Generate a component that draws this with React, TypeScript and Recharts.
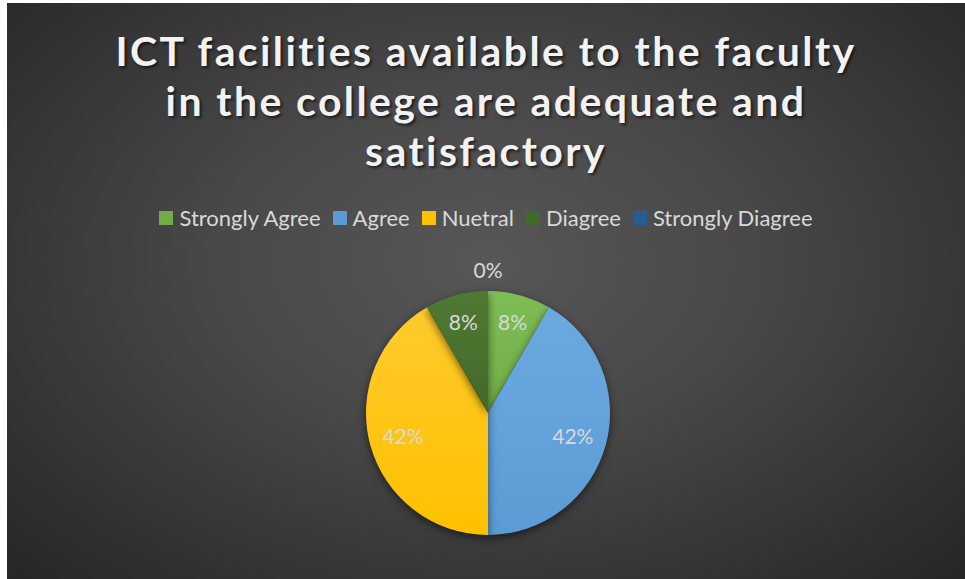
import React from "react";
import { PieChart, Pie, Cell, Legend } from "recharts";

const categories = ["Strongly Agree", "Agree", "Nuetral", "Diagree", "Strongly Diagree"];
const responses = [1, 5, 5, 1, 0];
const colors = ["#70AD47", "#5B9BD5", "#FFC000", "#43682B", "#255E91"];
const lightColors = ["#7fbd55", "#6ba9e0", "#ffca2c", "#4f7a33", "#2f6ca3"];
const titleLines = [
    "ICT facilities available to the faculty",
    "in the college are adequate and",
    "satisfactory",
];

const data = categories.map((name, i) => ({ name, value: responses[i] }));

const WIDTH = 958;
const HEIGHT = 576;

const renderLabel = (props: any) => {
    const { cx, cy, midAngle, outerRadius, percent } = props;
    const RAD = Math.PI / 180;
    const r = percent === 0 ? outerRadius + 22 : percent < 0.2 ? outerRadius * 0.78 : outerRadius * 0.72;
    const x = cx + r * Math.cos(-midAngle * RAD);
    const y = cy + r * Math.sin(-midAngle * RAD);
    return (
        <text
            x={x}
            y={y}
            fill="#d9d9d9"
            fontSize={21}
            fontFamily="Lato, sans-serif"
            textAnchor="middle"
            dominantBaseline="central"
        >
            {`${Math.round(percent * 100)}%`}
        </text>
    );
};

const renderLegend = () => (
    <div
        style={{
            display: "flex",
            justifyContent: "center",
            gap: 12,
            fontFamily: "Lato, sans-serif",
            fontSize: 22,
            color: "#d9d9d9",
        }}
    >
        {categories.map((c, i) => (
            <span key={c} style={{ display: "flex", alignItems: "center" }}>
                <span
                    style={{
                        width: 14,
                        height: 14,
                        background: colors[i],
                        display: "inline-block",
                        marginRight: 6,
                    }}
                />
                {c}
            </span>
        ))}
    </div>
);

export default function App() {
    return (
        <div
            style={{
                position: "fixed",
                left: 0,
                top: 0,
                width: 965,
                height: 579,
                background: "#ffffff",
            }}
        >
            <div
                style={{
                    position: "absolute",
                    left: 7,
                    top: 3,
                    width: WIDTH,
                    height: HEIGHT,
                    background:
                        "radial-gradient(ellipse at 50% 45%, #575757 0%, #484848 40%, #262626 100%)",
                }}
            >
                <div
                    style={{
                        position: "absolute",
                        left: 0,
                        top: 23,
                        width: WIDTH,
                        textAlign: "center",
                        color: "#f2f2f2",
                        fontFamily: "Lato, sans-serif",
                        fontWeight: 700,
                        fontSize: 41,
                        lineHeight: "50px",
                        letterSpacing: 2.4,
                        textShadow: "2px 2px 3px rgba(0,0,0,0.6)",
                    }}
                >
                    {titleLines.map((l) => (
                        <div key={l}>{l}</div>
                    ))}
                </div>
                <PieChart width={WIDTH} height={HEIGHT} margin={{ top: 0, right: 0, bottom: 0, left: 0 }}>
                    <defs>
                        {colors.map((c, i) => (
                            <linearGradient key={c} id={`grad${i}`} x1="0" y1="0" x2="0" y2="1">
                                <stop offset="0%" stopColor={lightColors[i]} />
                                <stop offset="100%" stopColor={c} />
                            </linearGradient>
                        ))}
                    </defs>
                    <Legend
                        content={renderLegend}
                        wrapperStyle={{ position: "absolute", top: 201, left: 0, width: WIDTH }}
                    />
                    <Pie
                        data={data}
                        dataKey="value"
                        nameKey="name"
                        cx={481}
                        cy={410}
                        outerRadius={122}
                        startAngle={90}
                        endAngle={-270}
                        stroke="none"
                        label={renderLabel}
                        labelLine={false}
                        isAnimationActive={false}
                    >
                        {data.map((d, i) => (
                            <Cell
                                key={d.name}
                                fill={`url(#grad${i})`}
                                style={{ filter: "drop-shadow(0px 3px 4px rgba(0,0,0,0.55))" }}
                            />
                        ))}
                    </Pie>
                </PieChart>
            </div>
        </div>
    );
}
